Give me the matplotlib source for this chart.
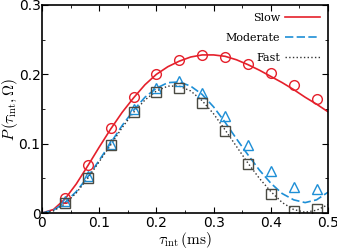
import numpy as np
import matplotlib
matplotlib.use("Agg")
import matplotlib.pyplot as plt
from matplotlib.ticker import MultipleLocator

plt.rcParams['mathtext.fontset'] = 'cm'

# measured points
tau_pts = [0.04, 0.08, 0.12, 0.16, 0.20, 0.24, 0.28, 0.32, 0.36, 0.40, 0.44, 0.48]
slow_pts = [0.022, 0.069, 0.122, 0.167, 0.200, 0.221, 0.228, 0.225, 0.215, 0.202, 0.185, 0.165]
moderate_pts = [0.017, 0.053, 0.100, 0.150, 0.181, 0.191, 0.173, 0.140, 0.098, 0.060, 0.037, 0.035]
fast_pts = [0.0145, 0.050, 0.098, 0.146, 0.174, 0.180, 0.159, 0.118, 0.071, 0.028, 0.0034, 0.006]

# theory curves
tau_c = [0.0, 0.02, 0.04, 0.06, 0.08, 0.10, 0.12, 0.14, 0.16, 0.18, 0.20, 0.22, 0.24,
         0.26, 0.28, 0.30, 0.32, 0.34, 0.36, 0.38, 0.40, 0.42, 0.44, 0.46, 0.48, 0.50]
slow_c = [0.0, 0.005, 0.020, 0.042, 0.068, 0.095, 0.121, 0.145, 0.166, 0.185, 0.200, 0.211,
          0.219, 0.225, 0.228, 0.228, 0.226, 0.221, 0.214, 0.206, 0.197, 0.188, 0.178,
          0.167, 0.157, 0.146]
moderate_c = [0.0, 0.004, 0.015, 0.031, 0.052, 0.076, 0.101, 0.126, 0.148, 0.167, 0.180,
              0.188, 0.189, 0.183, 0.171, 0.153, 0.131, 0.107, 0.084, 0.062, 0.043, 0.028,
              0.019, 0.015, 0.019, 0.030]
fast_c = [0.0, 0.003, 0.013, 0.029, 0.050, 0.074, 0.098, 0.123, 0.145, 0.163, 0.176, 0.183,
          0.183, 0.176, 0.162, 0.143, 0.120, 0.096, 0.072, 0.050, 0.031, 0.015, 0.005,
          0.001, 0.004, 0.012]

xticks = [0, 0.1, 0.2, 0.3, 0.4, 0.5]
xticklabels = ['0', '0.1', '0.2', '0.3', '0.4', '0.5']
yticks = [0, 0.1, 0.2, 0.3]
yticklabels = ['0', '0.1', '0.2', '0.3']

red = '#e5202b'
blue = '#1e8fd6'
grey = '#4a4a42'

fig = plt.figure(figsize=(3.37, 2.49), dpi=100)
ax = fig.add_axes([42/337, 1 - 213/249, 286/337, 208/249])

ax.plot(tau_c, slow_c, '-', color=red, lw=1.2, label='Slow')
ax.plot(tau_c, moderate_c, '--', color=blue, lw=1.2, dashes=(5, 2), label='Moderate')
ax.plot(tau_c, fast_c, ':', color='#333333', lw=1.0, label='Fast')

ax.plot(tau_pts, slow_pts, 'o', mfc='none', mec=red, ms=7, mew=1.0)
ax.plot(tau_pts, moderate_pts, '^', mfc='none', mec=blue, ms=7, mew=1.0)
ax.plot(tau_pts, fast_pts, 's', mfc='none', mec=grey, ms=6.5, mew=1.0)

ax.set_xlim(0, 0.5)
ax.set_ylim(0, 0.3)
ax.set_xticks(xticks)
ax.set_xticklabels(xticklabels, fontsize=10)
ax.set_yticks(yticks)
ax.set_yticklabels(yticklabels, fontsize=10)
ax.xaxis.set_minor_locator(MultipleLocator(0.05))
ax.yaxis.set_minor_locator(MultipleLocator(0.05))
ax.tick_params(which='both', direction='in', top=True, right=True)
ax.tick_params(axis='x', which='major', pad=2)
ax.tick_params(axis='y', which='major', pad=1)
ax.tick_params(which='major', length=4)
ax.tick_params(which='minor', length=2.5)
for s in ax.spines.values():
    s.set_linewidth(1.2)

ax.set_xlabel(r'$\tau_{\rm int}\,({\rm ms})$', fontsize=11, labelpad=0)
ax.set_ylabel(r'$P\,(\tau_{\rm int},\Omega)$', fontsize=11, labelpad=-1)

leg = ax.legend(loc='upper right', frameon=False, markerfirst=False,
                handlelength=3.2, handletextpad=0.4, labelspacing=0.9,
                borderaxespad=0.3, prop={'family': 'DejaVu Serif', 'size': 8})

fig.savefig('out.png', dpi=100)
